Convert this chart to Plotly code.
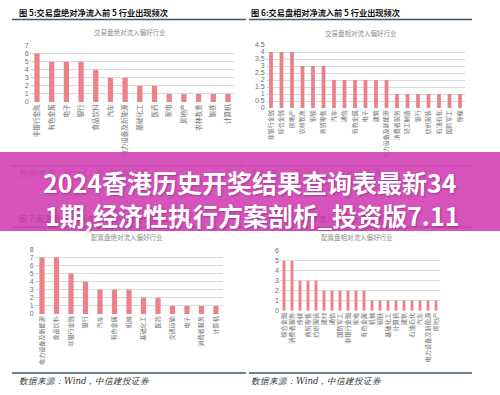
import plotly.graph_objects as go

W, H = 500, 395

# ---------------- data ----------------
cats_trade_abs = ["非银行金融", "有色金属", "电子", "银行", "食品饮料", "汽车", "电力设备及新能源",
                  "基础化工", "医药", "家电", "房地产", "农林牧渔", "钢铁", "计算机"]
vals_trade_abs = [6, 5, 5, 5, 4, 3, 3, 2, 2, 1, 1, 1, 1, 1]

cats_trade_rel = ["非银行金融", "综合金融", "房地产", "农林牧渔", "钢铁", "商贸零售", "汽车", "通信",
                  "有色金属", "电子", "建筑", "电力设备及新能源", "消费者服务", "轻工制造", "银行",
                  "纺织服装", "石油石化", "国防军工", "传媒"]
vals_trade_rel = [4, 4, 4, 3, 3, 3, 2, 2, 2, 2, 2, 2, 1, 1, 1, 1, 1, 1, 1]

cats_alloc_abs = ["电力设备及新能源", "食品饮料", "非银行金融", "银行", "汽车", "有色金属", "机械",
                  "基础化工", "医药", "交通运输", "电子", "消费者服务", "计算机"]
vals_alloc_abs = [7, 7, 5, 4, 3, 3, 3, 2, 2, 1, 1, 1, 1]

cats_alloc_rel = ["综合金融", "消费者服务", "传媒", "商贸零售", "纺织服装", "建材", "通信", "国防军工",
                  "非银行金融", "家电", "有色金属", "机械", "钢铁", "基础化工", "计算机", "建筑",
                  "石油石化", "汽车", "电力设备及新能源", "房地产"]
vals_alloc_rel = [5, 5, 3, 3, 3, 2, 2, 2, 2, 2, 2, 1, 1, 1, 1, 1, 1, 1, 1, 1]

headings = ["图 5:交易盘绝对净流入前 5 行业出现频次", "图 6:交易盘相对净流入前 5 行业出现频次",
            "图 7:配置盘绝对净流入前 5 行业出现频次", "图 8:配置盘相对净流入前 5 行业出现频次"]
chart_titles = ["交易盘绝对流入偏好行业", "交易盘相对流入偏好行业",
                "配置盘绝对流入偏好行业", "配置盘相对流入偏好行业"]
source_text = "数据来源：Wind，中信建投证券"
banner_lines = ["2024香港历史开奖结果查询表最新34", "1期,经济性执行方案剖析_投资版7.11"]


def X(px):
    return px / W


def Y(py):
    return 1 - py / H


BAR = "#EC8287"
GRID = "#D9D9D9"
TICK = "#6E6E6E"
FONT = "Noto Sans CJK SC"

panels = [
    # cats, vals, x-domain px, y px of 0, y px of max, ymax, dtick, tick font
    (cats_trade_abs, vals_trade_abs, (29.65, 235.3), 102, 45.5, 7, 1, 6.6),
    (cats_trade_rel, vals_trade_rel, (265.75, 465.25), 108, 45, 4.5, 0.5, 6.0),
    (cats_alloc_abs, vals_alloc_abs, (34.75, 223.25), 314, 249.3, 8, 1, 6.1),
    (cats_alloc_rel, vals_alloc_rel, (280, 440), 310.7, 251, 6, 1, 6.2),
]

fig = go.Figure()
layout = {}
for i, (cats, vals, (xa, xb), y0, y1, ymax, dt, fs) in enumerate(panels):
    n = i + 1
    xn = "x" if n == 1 else f"x{n}"
    yn = "y" if n == 1 else f"y{n}"
    fig.add_trace(go.Bar(x=cats, y=vals, xaxis=xn, yaxis=yn, marker_color=BAR,
                         marker_line_width=0, width=0.36, showlegend=False,
                         hoverinfo="x+y"))
    xkey = "xaxis" if n == 1 else f"xaxis{n}"
    ykey = "yaxis" if n == 1 else f"yaxis{n}"
    layout[xkey] = dict(domain=[X(xa), X(xb)], anchor=yn, type="category",
                        tickmode="array", tickvals=cats, ticktext=cats,
                        tickangle=-90, tickfont=dict(size=fs, color=TICK, family=FONT),
                        showgrid=False, showline=False, zeroline=False, ticks="",
                        automargin=False, range=[-0.5, len(cats) - 0.5], fixedrange=True)
    layout[ykey] = dict(domain=[Y(y0), Y(y1)], anchor=xn, range=[0, ymax * 1.0001],
                        dtick=dt, tick0=0, showgrid=True, gridcolor=GRID, gridwidth=1,
                        zeroline=False, showline=False, ticks="",
                        tickfont=dict(size=7, color=TICK, family="Liberation Sans"),
                        automargin=False, fixedrange=True)

annotations = []
# headings
head_pos = [(17, 12), (249, 12), (17, 218), (249, 218)]
for txt, (hx, hy) in zip(headings, head_pos):
    annotations.append(dict(text=txt, x=X(hx), y=Y(hy), xref="paper", yref="paper",
                            xanchor="left", yanchor="middle", showarrow=False,
                            font=dict(size=8.2, color="#111111", family=FONT, weight="bold")))
# chart titles
title_pos = [(130, 32), (361, 33), (127, 237), (357, 237)]
for txt, (tx, ty) in zip(chart_titles, title_pos):
    annotations.append(dict(text=txt, x=X(tx), y=Y(ty), xref="paper", yref="paper",
                            xanchor="center", yanchor="middle", showarrow=False,
                            font=dict(size=6.5, color="#8C8C8C", family=FONT)))
# source notes
src_pos = [(17, 173), (249, 173), (17, 381), (249, 381)]
for sx, sy in src_pos:
    annotations.append(dict(text=source_text, x=X(sx), y=Y(sy), xref="paper", yref="paper",
                            xanchor="left", yanchor="middle", showarrow=False,
                            font=dict(size=8.6, color="#333333", family="DejaVu Serif",
                                      style="italic")))

# banner (semi transparent box on top)
annotations.append(dict(text=" ", x=0.5, y=Y(191.5), xref="paper", yref="paper",
                        xanchor="center", yanchor="middle", showarrow=False,
                        width=W + 4, height=79, bgcolor="rgba(210,70,182,0.93)",
                        borderpad=0, borderwidth=0, font=dict(size=10)))
for txt, (bx, by) in zip(banner_lines, [(250, 182), (252, 214.5)]):
    annotations.append(dict(text=txt, x=X(bx), y=Y(by), xref="paper", yref="paper",
                            xanchor="center", yanchor="middle", showarrow=False,
                            font=dict(size=25, color="#FFFFFF", family=FONT, weight="bold",
                                      shadow="1px 1px 2px rgba(80,0,60,0.35)")))

# rule lines
LINE = "#3D5A68"
shapes = []
for ly in (19.5, 166, 227, 373):
    for lx0, lx1 in ((12, 246), (249, 472)):
        shapes.append(dict(type="line", xref="paper", yref="paper",
                           x0=X(lx0), x1=X(lx1), y0=Y(ly), y1=Y(ly),
                           line=dict(color=LINE, width=1.5), layer="above"))

fig.update_layout(**layout)
fig.update_layout(template="none", width=W, height=H,
                  margin=dict(l=0, r=0, t=0, b=0, pad=0),
                  paper_bgcolor="white", plot_bgcolor="white",
                  annotations=annotations, shapes=shapes, showlegend=False,
                  font=dict(family=FONT))
fig.write_html("out.html", config={"displayModeBar": False},
               post_script="document.body.style.margin='0';document.body.style.overflow='hidden';")
